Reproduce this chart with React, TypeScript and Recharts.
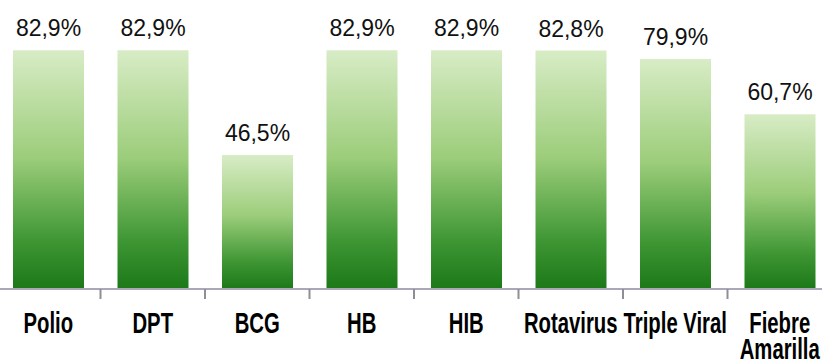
import React from "react";
import { BarChart, Bar, XAxis, YAxis, LabelList } from "recharts";

const categories = ["Polio", "DPT", "BCG", "HB", "HIB", "Rotavirus", "Triple Viral", "Fiebre\nAmarilla"];
const coverage = [82.9, 82.9, 46.5, 82.9, 82.9, 82.8, 79.9, 60.7];
const valueLabels = ["82,9%", "82,9%", "46,5%", "82,9%", "82,9%", "82,8%", "79,9%", "60,7%"];

const data = categories.map((c, i) => ({ name: c, value: coverage[i], label: valueLabels[i] }));

const CHART_W = 836;
const CHART_H = 362;

const CategoryTick = (props: any) => {
  const { x, y, payload } = props;
  const lines = String(payload.value).split("\n");
  const half = payload.offset ?? CHART_W / categories.length / 2;
  return (
    <g>
      <line x1={x - half} y1={y - 8} x2={x - half} y2={y + 2} stroke="#8e8e96" strokeWidth={2} />
      {lines.map((ln: string, i: number) => (
        <text
          key={i}
          x={0}
          y={0}
          transform={`translate(${x}, ${y + 36 + i * 26}) scale(0.7, 1)`}
          textAnchor="middle"
          fontFamily="'Liberation Sans', Arial, sans-serif"
          fontWeight="bold"
          fontSize={29}
          fill="#000"
        >
          {ln}
        </text>
      ))}
    </g>
  );
};

export default function App() {
  return (
    <div style={{ position: "fixed", left: 0, top: 0, width: 822, height: 362, overflow: "hidden", background: "#fff" }}>
      <div style={{ marginLeft: -4 }}>
        <BarChart
          width={CHART_W}
          height={CHART_H}
          data={data}
          margin={{ top: 1, right: 0, bottom: 0, left: 0 }}
          barCategoryGap={17}
        >
          <defs>
            <linearGradient id="greenGrad" x1="0" y1="0" x2="0" y2="1">
              <stop offset="0%" stopColor="#d8ecc6" />
              <stop offset="45%" stopColor="#9ccd7a" />
              <stop offset="80%" stopColor="#3e9633" />
              <stop offset="100%" stopColor="#1c7818" />
            </linearGradient>
          </defs>
          <XAxis
            dataKey="name"
            axisLine={{ stroke: "#a8a8b8", strokeWidth: 2 }}
            tickLine={false}
            tick={<CategoryTick />}
            interval={0}
            height={73}
          />
          <YAxis hide domain={[0, 100]} />
          <Bar dataKey="value" fill="url(#greenGrad)" isAnimationActive={false}>
            <LabelList
              dataKey="label"
              position="top"
              offset={14}
              fill="#111"
              fontSize={23}
              fontFamily="'Liberation Sans', Arial, sans-serif"
            />
          </Bar>
        </BarChart>
      </div>
    </div>
  );
}
